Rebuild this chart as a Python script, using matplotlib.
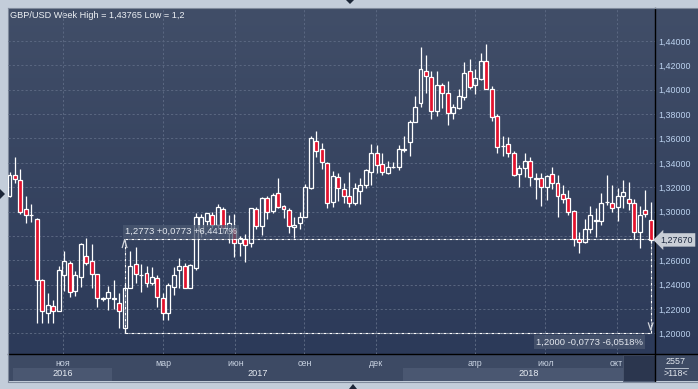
import numpy as np
import matplotlib
matplotlib.use('Agg')
import matplotlib.pyplot as plt
from matplotlib.patches import Rectangle, Polygon
from matplotlib.transforms import blended_transform_factory
from matplotlib.colors import LinearSegmentedColormap

plt.rcParams['font.family'] = ['Liberation Sans', 'DejaVu Sans']

W, H = 698, 389

# ---------------- data (weekly GBP/USD) ----------------
opens = [1.3130, 1.3300, 1.3259, 1.3018, 1.2970, 1.2939, 1.2438, 1.2164, 1.2224, 1.2186,
         1.2479, 1.2575, 1.2350, 1.2465, 1.2635, 1.2591, 1.2485, 1.2280, 1.2287, 1.2285,
         1.2251, 1.2046, 1.2376, 1.2568, 1.2478, 1.2493, 1.2417, 1.2452, 1.2288, 1.2164,
         1.2384, 1.2516, 1.2553, 1.2370, 1.2534, 1.2843, 1.2925, 1.2969, 1.2890, 1.3018,
         1.2821, 1.2862, 1.2739, 1.2772, 1.2739, 1.3021, 1.2884, 1.3109, 1.3005, 1.3150,
         1.3043, 1.3013, 1.2871, 1.2903, 1.2958, 1.3191, 1.3582, 1.3511, 1.3396, 1.3081,
         1.3281, 1.3183, 1.3128, 1.3073, 1.3171, 1.3218, 1.3327, 1.3478, 1.3388, 1.3319,
         1.3363, 1.3368, 1.3505, 1.3574, 1.3738, 1.3894, 1.4152, 1.4103, 1.3828, 1.4039,
         1.3971, 1.3807, 1.3853, 1.3943, 1.4157, 1.4039, 1.4089, 1.4239, 1.4004, 1.3785,
         1.3535, 1.3552, 1.3478, 1.3308, 1.3355, 1.3415, 1.3273, 1.3273, 1.3204, 1.3306,
         1.3232, 1.3144, 1.3109, 1.3005, 1.2772, 1.2747, 1.2854, 1.2922, 1.2925, 1.3075,
         1.3073, 1.3035, 1.3128, 1.3101, 1.3068, 1.2834, 1.3013, 1.2931]
highs = [1.3325, 1.3451, 1.3347, 1.3128, 1.3062, 1.2945, 1.2446, 1.2333, 1.2274, 1.2553,
         1.2676, 1.2596, 1.2514, 1.2742, 1.2780, 1.2733, 1.2491, 1.2301, 1.2391, 1.2438,
         1.2329, 1.2405, 1.2676, 1.2711, 1.2570, 1.2555, 1.2545, 1.2479, 1.2329, 1.2413,
         1.2545, 1.2618, 1.2575, 1.2573, 1.2986, 1.2980, 1.2991, 1.2999, 1.3060, 1.3040,
         1.2972, 1.2980, 1.2799, 1.2813, 1.3032, 1.3035, 1.3122, 1.3128, 1.3150, 1.3273,
         1.3054, 1.3027, 1.2958, 1.2999, 1.3226, 1.3621, 1.3664, 1.3561, 1.3409, 1.3336,
         1.3314, 1.3232, 1.3327, 1.3232, 1.3273, 1.3350, 1.3555, 1.3547, 1.3478, 1.3418,
         1.3409, 1.3547, 1.3621, 1.3752, 1.3949, 1.4354, 1.4286, 1.4157, 1.4157, 1.4058,
         1.4072, 1.3883, 1.4004, 1.4231, 1.4251, 1.4168, 1.4300, 1.43765, 1.4031, 1.3801,
         1.3621, 1.3610, 1.3500, 1.3382, 1.3478, 1.3451, 1.3314, 1.3314, 1.3300, 1.3368,
         1.3300, 1.3218, 1.3177, 1.3013, 1.2834, 1.2936, 1.3046, 1.3027, 1.3150, 1.3300,
         1.3218, 1.3191, 1.3259, 1.3245, 1.3101, 1.3046, 1.3177, 1.3081]
lows = [1.3120, 1.3237, 1.2980, 1.2908, 1.2917, 1.2082, 1.2087, 1.2087, 1.2082, 1.2183,
        1.2347, 1.2301, 1.2309, 1.2383, 1.2561, 1.2370, 1.2218, 1.2268, 1.2191, 1.2197,
        1.2041, 1.2000, 1.2372, 1.2411, 1.2342, 1.2383, 1.2393, 1.2212, 1.2107, 1.2109,
        1.2315, 1.2372, 1.2370, 1.2368, 1.2520, 1.2793, 1.2881, 1.2862, 1.2862, 1.2821,
        1.2739, 1.2629, 1.2635, 1.2588, 1.2706, 1.2854, 1.2807, 1.2939, 1.2986, 1.3027,
        1.2945, 1.2826, 1.2780, 1.2854, 1.2955, 1.3189, 1.3451, 1.3347, 1.3027, 1.3040,
        1.3089, 1.3068, 1.3040, 1.3054, 1.3060, 1.3191, 1.3218, 1.3319, 1.3300, 1.3308,
        1.3355, 1.3341, 1.3492, 1.3456, 1.3738, 1.3856, 1.3976, 1.3758, 1.3785, 1.3848,
        1.3711, 1.3758, 1.3840, 1.3916, 1.4004, 1.3966, 1.4081, 1.4003, 1.3746, 1.3483,
        1.3456, 1.3451, 1.3292, 1.3204, 1.3286, 1.3210, 1.3101, 1.3046, 1.3095, 1.3183,
        1.2958, 1.3073, 1.2972, 1.2717, 1.2662, 1.2739, 1.2821, 1.2789, 1.2890, 1.3054,
        1.2999, 1.2925, 1.3027, 1.3013, 1.2775, 1.2698, 1.2958, 1.2745]
closes = [1.3300, 1.3265, 1.2999, 1.2972, 1.2975, 1.2438, 1.2186, 1.2232, 1.2186, 1.2520,
          1.2596, 1.2342, 1.2479, 1.2733, 1.2575, 1.2485, 1.2290, 1.2287, 1.2337, 1.2290,
          1.2181, 1.2375, 1.2550, 1.2487, 1.2482, 1.2411, 1.2461, 1.2296, 1.2164, 1.2397,
          1.2477, 1.2553, 1.2375, 1.2561, 1.2953, 1.2958, 1.2986, 1.2890, 1.3040, 1.2862,
          1.2903, 1.2739, 1.2785, 1.2725, 1.3027, 1.2884, 1.3109, 1.2994, 1.3133, 1.3040,
          1.3018, 1.2881, 1.2890, 1.2953, 1.3199, 1.3602, 1.3500, 1.3409, 1.3068, 1.3288,
          1.3191, 1.3130, 1.3073, 1.3191, 1.3218, 1.3341, 1.3478, 1.3382, 1.3327, 1.3363,
          1.3368, 1.3511, 1.3510, 1.3733, 1.3856, 1.4168, 1.4116, 1.3828, 1.4039, 1.3971,
          1.3807, 1.3856, 1.3949, 1.4140, 1.4026, 1.4094, 1.4239, 1.4004, 1.3779, 1.3533,
          1.3540, 1.3478, 1.3300, 1.3360, 1.3415, 1.3281, 1.3265, 1.3204, 1.3292, 1.3232,
          1.3130, 1.3101, 1.2999, 1.2772, 1.2747, 1.2854, 1.2972, 1.2927, 1.3073, 1.3080,
          1.3027, 1.3128, 1.3158, 1.3073, 1.2830, 1.2972, 1.2977, 1.2767]

price_ticks = [1.20, 1.22, 1.24, 1.26, 1.28, 1.30, 1.32, 1.34, 1.36, 1.38, 1.40, 1.42, 1.44]
month_labels = ['ноя', 'мар', 'июн', 'сен', 'дек', 'апр', 'июл', 'окт']
month_pos = [9.8, 28.1, 41.2, 53.8, 66.8, 84.9, 97.8, 110.8]
year_labels = ['2016', '2017', '2018']
year_start = [0.64, 18.7, 71.8]
year_end = [18.7, 71.8, 117.79]
year_shaded = [True, False, True]

title = 'GBP/USD Week High = 1,43765 Low = 1,2'
last_price = 1.27670
meas_low, meas_high = 1.2000, 1.2773
meas_i0, meas_i1 = 21, 117
total_bars = 2557

# ---------------- figure ----------------
fig = plt.figure(figsize=(W / 100, H / 100), dpi=100)
fig.patch.set_facecolor('#c3cdda')

bg = fig.add_axes([0, 0, 1, 1], zorder=0)
bg.set_xlim(0, W)
bg.set_ylim(H, 0)
bg.axis('off')

grad = np.linspace(0, 1, 256).reshape(-1, 1)
cmap = LinearSegmentedColormap.from_list('bgc', ['#414e68', '#2c3a59'])
bg.imshow(grad, extent=(8, W, 354, 8), aspect='auto', cmap=cmap, zorder=0)
# time axis bar
bg.add_patch(Rectangle((8, 354), W - 8, 27, facecolor='#3d4a64', edgecolor='none', zorder=1))
bg.add_patch(Rectangle((623, 355), 32, 26, facecolor='#2b364e', edgecolor='#4a566e', lw=0.6, zorder=3))
# frame lines
bg.plot([8, W], [354, 354], color='black', lw=1.0, zorder=4)
bg.plot([655, 655], [8, 381], color='black', lw=1.0, zorder=4)
bg.plot([7.5, 7.5], [8, 381], color='#7f8a9c', lw=0.8, zorder=4)
bg.plot([8, W], [7.5, 7.5], color='#7f8a9c', lw=0.8, zorder=4)
bg.plot([8, W], [381.5, 381.5], color='#7f8a9c', lw=0.8, zorder=4)
# little scroll triangles
bg.add_patch(Polygon([[0, 189], [5, 194], [0, 199]], closed=True, facecolor='#1c2638', zorder=5))
bg.add_patch(Polygon([[346, 0], [354, 0], [350, 4]], closed=True, facecolor='#1c2638', zorder=5))
bg.add_patch(Polygon([[349, 389], [357, 389], [353, 384]], closed=True, facecolor='#1c2638', zorder=5))

bg.text(10, 15, title, color='#eef1f5', fontsize=6.6, ha='left', va='center', zorder=6)
bg.text(676, 362, str(total_bars), color='#e2e7ee', fontsize=6.4, ha='center', va='center', zorder=6)
bg.plot([665, 688], [368, 368], color='#c8d0dc', lw=0.6, zorder=6)
bg.text(676, 374, '>%d<' % len(opens), color='#e2e7ee', fontsize=6.4, ha='center', va='center', zorder=6)

# ---------------- main axes ----------------
ax = fig.add_axes([8 / W, 1 - 354 / H, 647 / W, 346 / H], zorder=2)
ax.patch.set_visible(False)
ax.set_xlim(-0.274, 117.79)
ax.set_ylim(1.2 - 20.7 / 1217.5, 1.2 + 325.3 / 1217.5)
for s in ax.spines.values():
    s.set_visible(False)

ax.yaxis.tick_right()
ax.set_yticks(price_ticks)
ax.set_yticklabels([f'{v:.5f}'.replace('.', ',') for v in price_ticks])
ax.tick_params(axis='y', length=0, pad=2.3, labelsize=6.4, labelcolor='#bcd2ef')
ax.set_xticks(month_pos)
ax.set_xticklabels(month_labels)
ax.tick_params(axis='x', length=0, pad=3.6, labelsize=6.4, labelcolor='#c9d3e2')
ax.grid(True, color='#5a6781', linestyle=(0, (2.2, 2.2)), linewidth=0.7)
ax.set_axisbelow(True)

# year boxes and labels on the time axis
trans = blended_transform_factory(ax.transData, bg.transData)
for lab, s, e, sh in zip(year_labels, year_start, year_end, year_shaded):
    if sh:
        bg.add_patch(Rectangle((s, 368), e - s, 13, transform=trans, facecolor='#4a5771',
                               edgecolor='none', zorder=2, clip_on=False))
    bg.text((s + e) / 2, 374, lab, transform=trans, color='#e6ebf2', fontsize=6.6,
            ha='center', va='center', zorder=6, clip_on=False)

# ---------------- candles ----------------
red = '#e3122d'
bw = 0.72
for i, (o, h, l, c) in enumerate(zip(opens, highs, lows, closes)):
    lo_b, hi_b = min(o, c), max(o, c)
    ax.vlines(i, l, lo_b, color='white', lw=0.9, zorder=3)
    ax.vlines(i, hi_b, h, color='white', lw=0.9, zorder=3)
    fc = red if c < o else 'none'
    ax.add_patch(Rectangle((i - bw / 2, lo_b), bw, max(hi_b - lo_b, 0.00005),
                           facecolor=fc, edgecolor='white', lw=0.9, zorder=4))

# ---------------- measurement tool ----------------
dash = (0, (2.6, 1.0, 0.8, 1.0))
ax.plot([meas_i0, meas_i1], [meas_high, meas_high], color='white', lw=0.8, ls=dash, zorder=5)
ax.plot([meas_i0, meas_i1], [meas_low, meas_low], color='white', lw=0.8, ls=dash, zorder=5)
ax.plot([meas_i0, meas_i0], [meas_low, meas_high], color='white', lw=0.8, ls=dash, zorder=5)
ax.plot([meas_i1, meas_i1], [meas_low, meas_high], color='white', lw=0.8, ls=dash, zorder=5)
# chevrons
ax.plot([meas_i0 - 0.42, meas_i0, meas_i0 + 0.42],
        [meas_high - 0.0068, meas_high - 0.0003, meas_high - 0.0068], color='#cfd3da', lw=0.9, zorder=6)
ax.plot([meas_i1 - 0.42, meas_i1, meas_i1 + 0.42],
        [meas_low + 0.0085, meas_low + 0.0027, meas_low + 0.0085], color='#cfd3da', lw=0.9, zorder=6)

diff = meas_high - meas_low
up_txt = f'{meas_high:.4f} +{diff:.4f} +{diff / meas_low * 100:.4f}%'.replace('.', ',')
dn_txt = f'{meas_low:.4f} -{diff:.4f} -{diff / meas_high * 100:.4f}%'.replace('.', ',')
box = dict(boxstyle='square,pad=0.25', facecolor='#4b5871', edgecolor='none', alpha=0.75)
ax.text(meas_i0 + 0.1, meas_high + 0.0061, up_txt, color='#e3e7ee', fontsize=6.8,
        ha='left', va='center', bbox=box, zorder=7)
ax.text(meas_i1 - 1.4, meas_low - 0.0071, dn_txt, color='#e3e7ee', fontsize=6.8,
        ha='right', va='center', bbox=box, zorder=7)

# last price marker
ax.annotate(f'{last_price:.5f}'.replace('.', ','), xy=(1.0, last_price),
            xycoords=('axes fraction', 'data'), xytext=(4.0, 0), textcoords='offset points',
            ha='left', va='center', fontsize=6.4, color='#1d2940',
            bbox=dict(boxstyle='larrow,pad=0.25', facecolor='#c9ced6', edgecolor='none'),
            annotation_clip=False, zorder=8)

fig.savefig('out.png', dpi=100, facecolor=fig.get_facecolor())
